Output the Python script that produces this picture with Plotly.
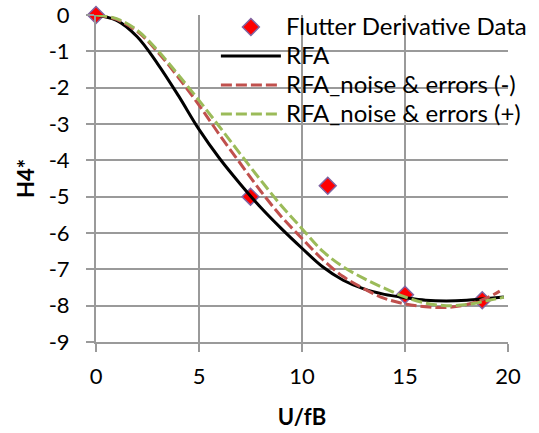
import plotly.graph_objects as go

# Flutter derivative data points
data_x = [0, 7.5, 11.25, 15, 18.75]
data_y = [0, -5.0, -4.7, -7.7, -7.85]

# RFA curve
rfa_x = [0, 1, 2, 3, 4, 5, 6, 7, 8, 9, 10, 11, 12, 13, 14, 15, 16, 17, 18, 19, 19.8]
rfa_y = [0, -0.15, -0.6, -1.35, -2.22, -3.15, -3.95, -4.65, -5.3, -5.88, -6.42, -6.93, -7.3,
         -7.54, -7.69, -7.78, -7.85, -7.87, -7.85, -7.8, -7.76]

# RFA noise & errors (-)
neg_x = [0, 1, 2, 3, 4, 5, 6, 7, 8, 9, 10, 11, 12, 13, 14, 15, 16, 17, 18, 19, 19.6]
neg_y = [0, -0.12, -0.45, -1.02, -1.72, -2.48, -3.3, -4.08, -4.85, -5.55, -6.15, -6.73, -7.2,
         -7.53, -7.8, -7.95, -8.03, -8.05, -7.97, -7.78, -7.6]

# RFA noise & errors (+)
pos_x = [0, 1, 2, 3, 4, 5, 6, 7, 8, 9, 10, 11, 12, 13, 14, 15, 16, 17, 18, 19, 19.8]
pos_y = [0, -0.1, -0.42, -0.98, -1.65, -2.35, -3.08, -3.82, -4.55, -5.25, -5.88, -6.5, -6.93,
         -7.25, -7.52, -7.76, -7.93, -8.0, -7.97, -7.86, -7.77]

series_names = ["Flutter Derivative Data", "RFA", "RFA_noise & errors (-)", "RFA_noise & errors (+)"]

x_ticks = [0, 5, 10, 15, 20]
x_labels = ["0", "5", "10", "15", "20"]
y_ticks = [0, -1, -2, -3, -4, -5, -6, -7, -8, -9]
y_labels = ["0", "-1", "-2", "-3", "-4", "-5", "-6", "-7", "-8", "-9"]

FONT = "Lato"
GRID = "#9a9a9a"
FS = 22


def leg(name):
    return '<span style="font-size:24px">' + name + '</span>'


fig = go.Figure()
fig.add_trace(go.Scatter(x=data_x, y=data_y, mode="markers", name=leg(series_names[0]),
                         cliponaxis=False,
                         marker=dict(symbol="diamond", size=13, color="#ff0000",
                                     line=dict(color="#8064A2", width=1.5))))
fig.add_trace(go.Scatter(x=rfa_x, y=rfa_y, mode="lines", name=leg(series_names[1]),
                         line_shape="spline",
                         line=dict(color="#000000", width=3)))
fig.add_trace(go.Scatter(x=neg_x, y=neg_y, mode="lines", name=leg(series_names[2]),
                         line_shape="spline",
                         line=dict(color="#C0504D", width=3, dash="11px,4px")))
fig.add_trace(go.Scatter(x=pos_x, y=pos_y, mode="lines", name=leg(series_names[3]),
                         line_shape="spline",
                         line=dict(color="#9BBB59", width=3, dash="11px,4px")))

fig.update_layout(
    width=539, height=433,
    margin=dict(l=96, r=31, t=15, b=91, autoexpand=False),
    paper_bgcolor="white", plot_bgcolor="white",
    font=dict(family=FONT, size=FS, color="#000000"),
    showlegend=True,
    legend=dict(x=0.291, y=1.023, xanchor="left", yanchor="top",
                bgcolor="rgba(0,0,0,0)", font=dict(family=FONT, size=20),
                tracegroupgap=0, itemwidth=60),
)
fig.update_xaxes(range=[0, 20], tickvals=x_ticks, ticktext=x_labels,
                 showgrid=True, gridcolor=GRID, gridwidth=2,
                 zeroline=False, showline=True, linecolor=GRID, linewidth=2,
                 ticks="outside", ticklen=8, tickcolor=GRID, tickwidth=2,
                 ticklabelstandoff=6,
                 title=dict(text="<b>U/fB</b>", font=dict(size=FS), standoff=21))
fig.update_yaxes(range=[-9, 0], tickvals=y_ticks, ticktext=y_labels,
                 showgrid=True, gridcolor=GRID, gridwidth=2,
                 zeroline=False, showline=True, linecolor=GRID, linewidth=2,
                 ticks="outside", ticklen=8, tickcolor=GRID, tickwidth=2,
                 ticklabelstandoff=12,
                 title=dict(text="<b>H4*</b>", font=dict(size=FS), standoff=8))

fig.write_html("out.html")
